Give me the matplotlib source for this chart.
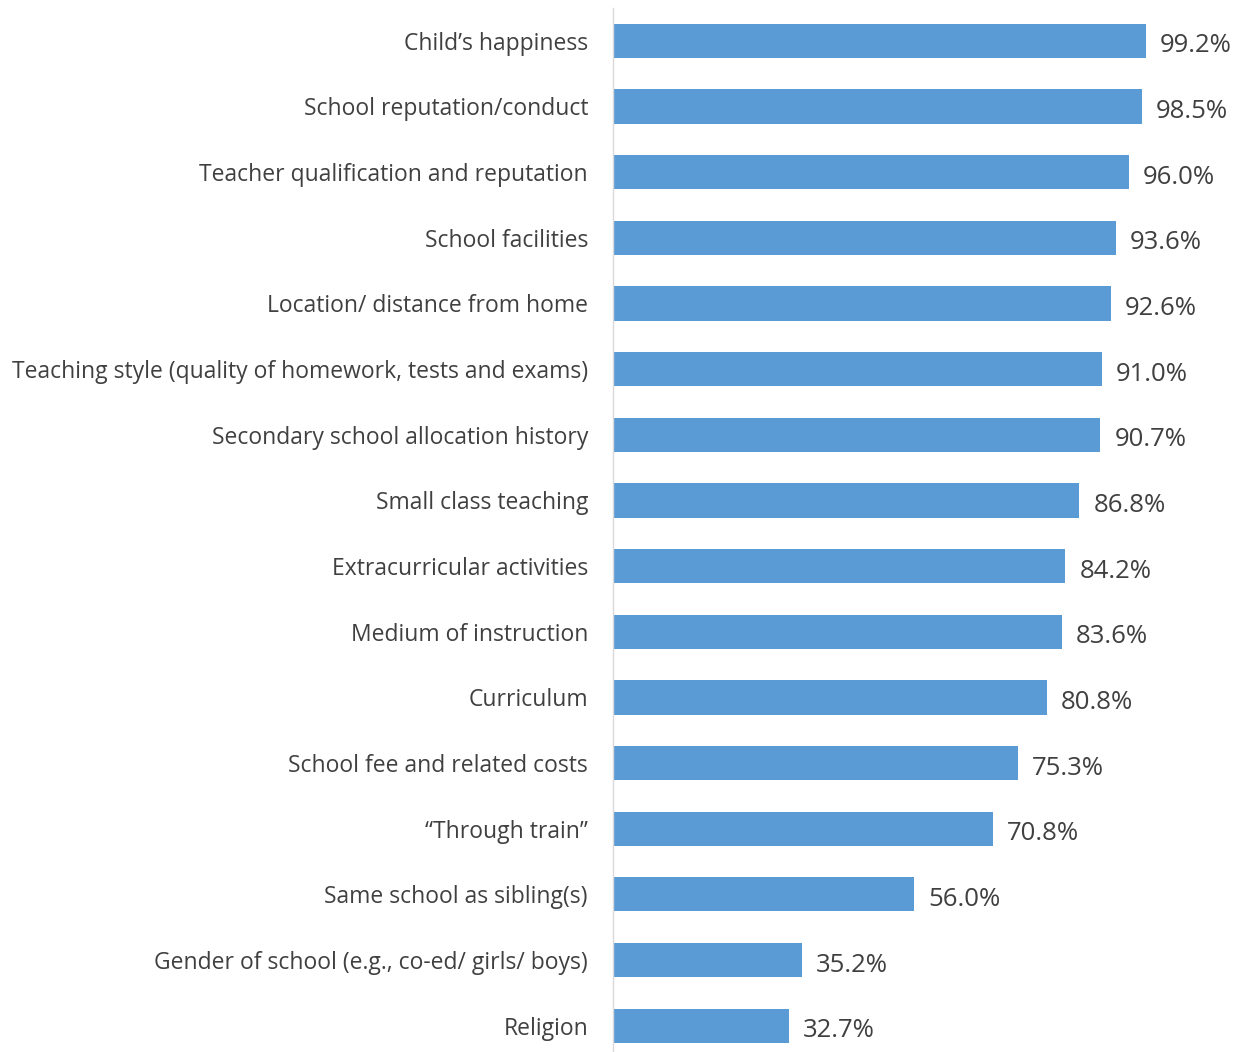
import matplotlib.pyplot as plt

plt.rcParams['font.family'] = ['Open Sans', 'DejaVu Sans']

labels = ["Child\u2019s happiness",
          "School reputation/conduct",
          "Teacher qualification and reputation",
          "School facilities",
          "Location/ distance from home",
          "Teaching style (quality of homework, tests and exams)",
          "Secondary school allocation history",
          "Small class teaching",
          "Extracurricular activities",
          "Medium of instruction",
          "Curriculum",
          "School fee and related costs",
          "\u201cThrough train\u201d",
          "Same school as sibling(s)",
          "Gender of school (e.g., co-ed/ girls/ boys)",
          "Religion"]
values = [99.2, 98.5, 96.0, 93.6, 92.6, 91.0, 90.7, 86.8, 84.2, 83.6,
          80.8, 75.3, 70.8, 56.0, 35.2, 32.7]

text_color = '#404040'
bar_color = '#5B9BD5'

fig = plt.figure(figsize=(12.42, 10.52), dpi=100)
ax = fig.add_axes([613/1242, 0, 1 - 613/1242, 1 - 8/1052])

pos = list(range(len(labels)))
ax.barh(pos, values, height=0.52, color=bar_color)
for p, v in zip(pos, values):
    ax.text(v + 2.6, p + 0.03, f'{v:.1f}%', va='center_baseline', ha='left',
            fontsize=18.5, color=text_color)

ax.set_ylim(15.4, -0.5)
ax.set_xlim(0, 117.07)
ax.set_yticks(pos)
ax.set_yticklabels(labels, fontsize=16.5, color=text_color)
ax.tick_params(axis='y', length=0, pad=18)
ax.set_xticks([])
for s in ['top', 'right', 'bottom']:
    ax.spines[s].set_visible(False)
ax.spines['left'].set_color('#D9D9D9')
ax.spines['left'].set_linewidth(1)

fig.savefig('out.png', dpi=100)
